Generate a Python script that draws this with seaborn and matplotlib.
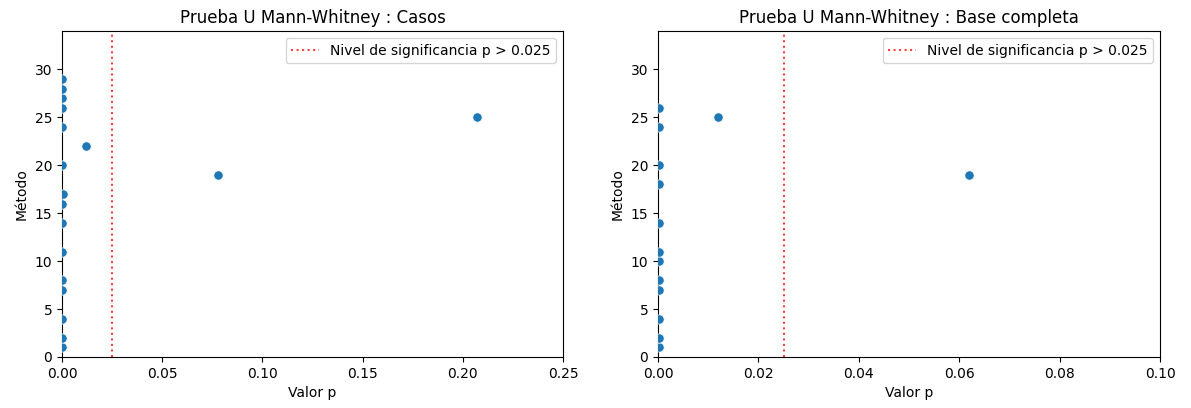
import matplotlib
matplotlib.use("Agg")
import matplotlib.pyplot as plt
import seaborn as sns
import pandas as pd

# p-values per method, "Casos" subset
casos_metodo = [1, 2, 4, 7, 8, 11, 14, 16, 17, 19, 20, 22, 24, 25, 26, 27, 28, 29]
casos_p = [0.0001, 0.0002, 0.0001, 0.0001, 0.0002, 0.0001, 0.0001, 0.0002, 0.0006,
           0.078, 0.0002, 0.012, 0.0001, 0.207, 0.0001, 0.0002, 0.0002, 0.0002]

# p-values per method, full dataset
base_metodo = [1, 2, 4, 7, 8, 10, 11, 14, 18, 19, 20, 24, 25, 26]
base_p = [0.0001, 0.0001, 0.0001, 0.0001, 0.0001, 0.0001, 0.0002, 0.0001, 0.0001,
          0.062, 0.0001, 0.0001, 0.012, 0.0001]

alpha_nivel = 0.025
titulos = ["Prueba U Mann-Whitney : Casos", "Prueba U Mann-Whitney : Base completa"]
xlims = [0.25, 0.10]

fig = plt.figure(figsize=(11.91, 4.08), dpi=100)
ax1 = fig.add_axes([62 / 1191, 1 - 357 / 408, 501 / 1191, 326 / 408])
ax2 = fig.add_axes([658 / 1191, 1 - 357 / 408, 502 / 1191, 326 / 408])

datos = [pd.DataFrame({"p": casos_p, "metodo": casos_metodo}),
         pd.DataFrame({"p": base_p, "metodo": base_metodo})]

for ax, df, titulo, xl in zip([ax1, ax2], datos, titulos, xlims):
    sns.scatterplot(data=df, x="p", y="metodo", ax=ax, color="#1f77b4", s=45,
                    edgecolor="white", linewidth=0.5, zorder=3)
    ax.axvline(alpha_nivel, color="red", linestyle=":", alpha=0.75, linewidth=1.5,
               label=f"Nivel de significancia p > {alpha_nivel}")
    ax.set_xlim(0, xl)
    ax.set_ylim(0, 34)
    ax.set_xlabel("Valor p")
    ax.set_ylabel("Método")
    ax.set_title(titulo, fontsize=12)
    ax.legend(loc="upper right")

fig.savefig("out.png", dpi=100)
